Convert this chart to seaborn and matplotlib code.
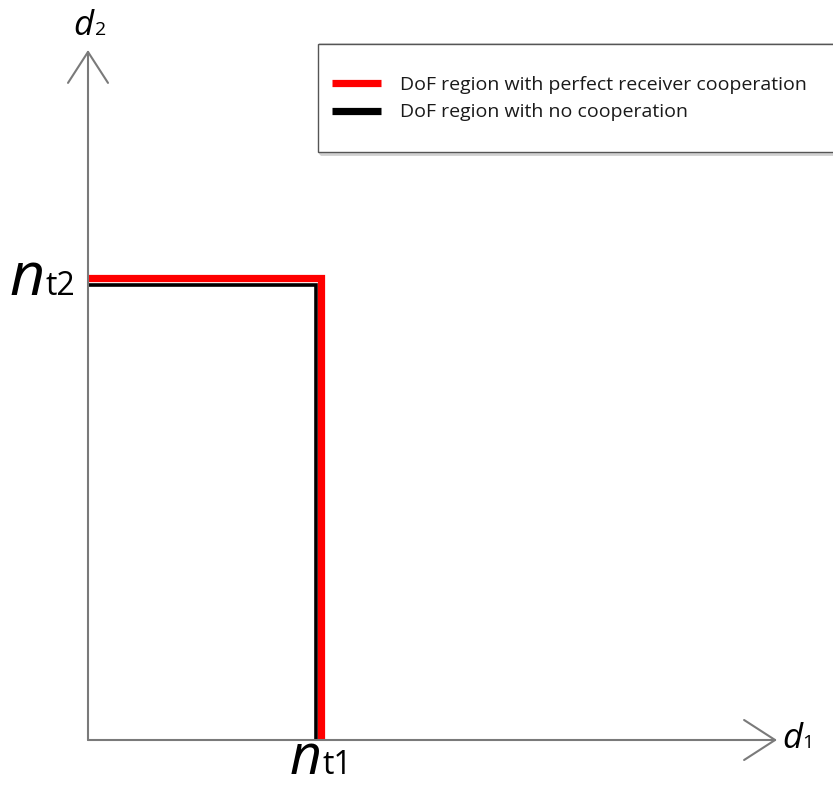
import matplotlib
matplotlib.use("Agg")
import matplotlib.pyplot as plt
import seaborn as sns
import pandas as pd
from matplotlib.patches import Rectangle
from matplotlib.lines import Line2D

# ---- data ----
region_labels = ["DoF region with perfect receiver cooperation",
                 "DoF region with no cooperation"]
d1_coop = [0, 1, 1]          # n_t1 = 1
d2_coop = [2, 2, 0]          # n_t2 = 2
d1_nocoop = [0, 0.98, 0.98]
d2_nocoop = [1.97, 1.97, 0]
line_colors = ["#ff0000", "#000000"]

sns.set_theme(style="white")
plt.rcParams["font.family"] = ["Open Sans", "DejaVu Sans"]

W, H = 833, 791
fig = plt.figure(figsize=(W / 100, H / 100), dpi=100)
# axes: origin at pixel (88,740), x tip at 777, y tip at 50
ax = fig.add_axes([88 / W, (H - 740) / H, (777 - 88) / W, (740 - 50) / H])
ax.set_xlim(0, 2.957)
ax.set_ylim(0, 2.987)
ax.axis("off")

df_no = pd.DataFrame({"d1": d1_nocoop, "d2": d2_nocoop})
df_co = pd.DataFrame({"d1": d1_coop, "d2": d2_coop})
sns.lineplot(data=df_no, x="d1", y="d2", sort=False, estimator=None,
             color=line_colors[1], linewidth=2.6, ax=ax, zorder=2)
sns.lineplot(data=df_co, x="d1", y="d2", sort=False, estimator=None,
             color=line_colors[0], linewidth=5.2, ax=ax, zorder=2.5)
for ln in ax.lines:
    ln.set_clip_on(False)
    ln.set_solid_joinstyle("miter")
    ln.set_solid_capstyle("butt")

# axes with open arrow heads
axis_col = "#7a7a7a"
arrow_kw = dict(arrowstyle="->,head_length=22.3,head_width=14.4", color=axis_col,
                lw=1.5, mutation_scale=1, shrinkA=0, shrinkB=0)
ax.annotate("", xy=(1, 0), xytext=(0, 0), xycoords="axes fraction",
            arrowprops=arrow_kw, annotation_clip=False, zorder=3)
ax.annotate("", xy=(0, 1), xytext=(0, 0), xycoords="axes fraction",
            arrowprops=arrow_kw, annotation_clip=False, zorder=3)

txt_col = "#000000"
# axis names
ax.annotate("d", xy=(0, 1), xycoords="axes fraction", xytext=(3.6, 10.8),
            textcoords="offset points", ha="right", va="baseline",
            fontsize=25, style="italic", color=txt_col, annotation_clip=False)
ax.annotate("2", xy=(0, 1), xycoords="axes fraction", xytext=(5.2, 10.8),
            textcoords="offset points", ha="left", va="baseline",
            fontsize=14, color=txt_col, annotation_clip=False)
ax.annotate("d", xy=(1, 0), xycoords="axes fraction", xytext=(3.6, -5.8),
            textcoords="offset points", ha="left", va="baseline",
            fontsize=25, style="italic", color=txt_col, annotation_clip=False)
ax.annotate("1", xy=(1, 0), xycoords="axes fraction", xytext=(18.0, -5.8),
            textcoords="offset points", ha="left", va="baseline",
            fontsize=14, color=txt_col, annotation_clip=False)

# n_t2 label
ax.annotate("n", xy=(0, d2_coop[0]), xycoords=("axes fraction", "data"),
            xytext=(-31.5, -12.2), textcoords="offset points", ha="right",
            va="baseline", fontsize=44, style="italic", color=txt_col,
            annotation_clip=False)
ax.annotate("t2", xy=(0, d2_coop[0]), xycoords=("axes fraction", "data"),
            xytext=(-9.0, -12.2), textcoords="offset points", ha="right",
            va="baseline", fontsize=23, color=txt_col, annotation_clip=False)
# n_t1 label
ax.annotate("n", xy=(d1_coop[1], 0), xycoords=("data", "axes fraction"),
            xytext=(0.2, -24.6), textcoords="offset points", ha="right",
            va="baseline", fontsize=40, style="italic", color=txt_col,
            annotation_clip=False)
ax.annotate("t1", xy=(d1_coop[1], 0), xycoords=("data", "axes fraction"),
            xytext=(1.0, -24.6), textcoords="offset points", ha="left",
            va="baseline", fontsize=23, color=txt_col, annotation_clip=False)

# legend box
fig.add_artist(Rectangle((320 / W, 1 - 154 / H), 600 / W, 110 / H,
                         transform=fig.transFigure, facecolor="none",
                         edgecolor="#d0d0d0", lw=2.0, clip_on=False, zorder=4))
fig.add_artist(Rectangle((318 / W, 1 - 152 / H), 600 / W, 108 / H,
                         transform=fig.transFigure, facecolor="white",
                         edgecolor="#555555", lw=1.0, clip_on=False, zorder=5))
handles = [Line2D([], [], color=c, lw=5.2, solid_capstyle="butt") for c in line_colors]
leg = fig.legend(handles, region_labels, loc="center left",
                 bbox_to_anchor=(332 / W, 1 - 98.5 / H), frameon=False,
                 fontsize=14, handlelength=2.5, handletextpad=1.0,
                 labelspacing=0.5, borderpad=0, borderaxespad=0)
leg.set_zorder(6)
for t in leg.get_texts():
    t.set_color("#1a1a1a")

fig.savefig("out.png", dpi=100)
